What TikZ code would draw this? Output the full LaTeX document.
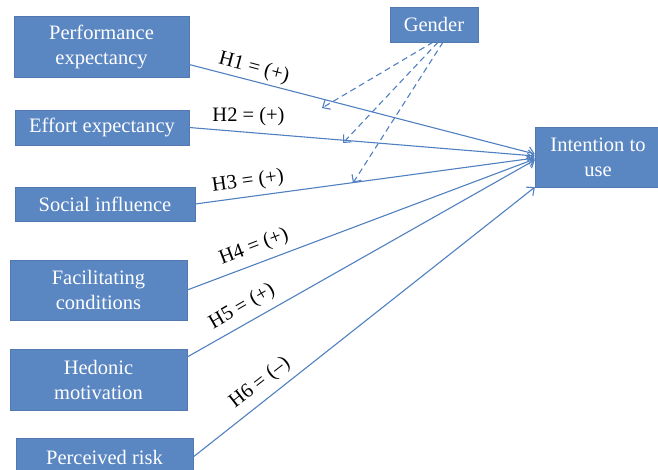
\documentclass[tikz,border=0pt]{standalone}
\usepackage{fontspec}
\setmainfont{Liberation Serif}
\usetikzlibrary{arrows.meta}
\definecolor{boxblue}{HTML}{5A86C2}
\definecolor{lineblue}{HTML}{5080C0}
\begin{document}
\begin{tikzpicture}[x=1pt,y=-1pt,
  box/.style={fill=boxblue, draw=boxblue!90!black, line width=0.4pt, text=white, align=center,
    inner sep=0pt, font=\fontsize{20.5}{25}\selectfont},
  link/.style={draw=lineblue, line width=1.1pt, -{Straight Barb[length=6pt,width=11pt,line width=1.1pt]}},
  mod/.style={link, dash pattern=on 6pt off 4pt},
  lbl/.style={font=\fontsize{20.5}{24}\selectfont, text=black, inner sep=0pt}]
\useasboundingbox (0,0) rectangle (658,470);
\node[box, minimum width=175pt, minimum height=61pt] (pe) at (101.5,46.5) {Performance\\expectancy};
\node[box, minimum width=174pt, minimum height=35pt] (ee) at (102,127.5) {Effort expectancy};
\node[box, minimum width=180pt, minimum height=34pt] (si) at (105,204) {Social influence};
\node[box, minimum width=177pt, minimum height=60pt] (fc) at (98.5,290) {Facilitating\\conditions};
\node[box, minimum width=177pt, minimum height=61pt] (hm) at (98.5,379.5) {Hedonic\\motivation};
\node[box, minimum width=177pt, minimum height=38pt] (pr) at (104.5,457) {Perceived risk};
\node[box, minimum width=88pt, minimum height=35pt] (g) at (434,24.5) {Gender};
\node[box, minimum width=126pt, minimum height=60pt] (it) at (598,157) {Intention to\\use};
\coordinate (m1) at (322,108);
\coordinate (m2) at (343,143);
\coordinate (m3) at (353,183);
\draw[link] ([yshift=-18pt]pe.east) -- ([yshift=3pt]it.west);
\draw[link] (ee.east) -- ([yshift=1pt]it.west);
\draw[link] (si.east) -- ([yshift=-1pt]it.west);
\draw[link] (fc.east) -- ([yshift=-2pt]it.west);
\draw[link] ([yshift=22.5pt]hm.east) -- ([yshift=-3pt]it.west);
\draw[link] (pr.east) -- (it.south west);
\draw[mod] ([xshift=-1pt]g.south) -- (m1);
\draw[mod] ([xshift=4pt]g.south) -- (m2);
\draw[mod] ([xshift=9pt]g.south) -- (m3);
\node[lbl, rotate=-15] (l1) at (254,68) {H1 = (+)};
\node[lbl] (l2) at (248.5,117) {H2 = (+)};
\node[lbl, rotate=8] (l3) at (248,182) {H3 = (+)};
\node[lbl, rotate=21] (l4) at (254,247) {H4 = (+)};
\node[lbl, rotate=30] (l5) at (242,307) {H5 = (+)};
\node[lbl, rotate=38] (l6) at (260,383) {H6 = (–)};
\end{tikzpicture}
\end{document}
